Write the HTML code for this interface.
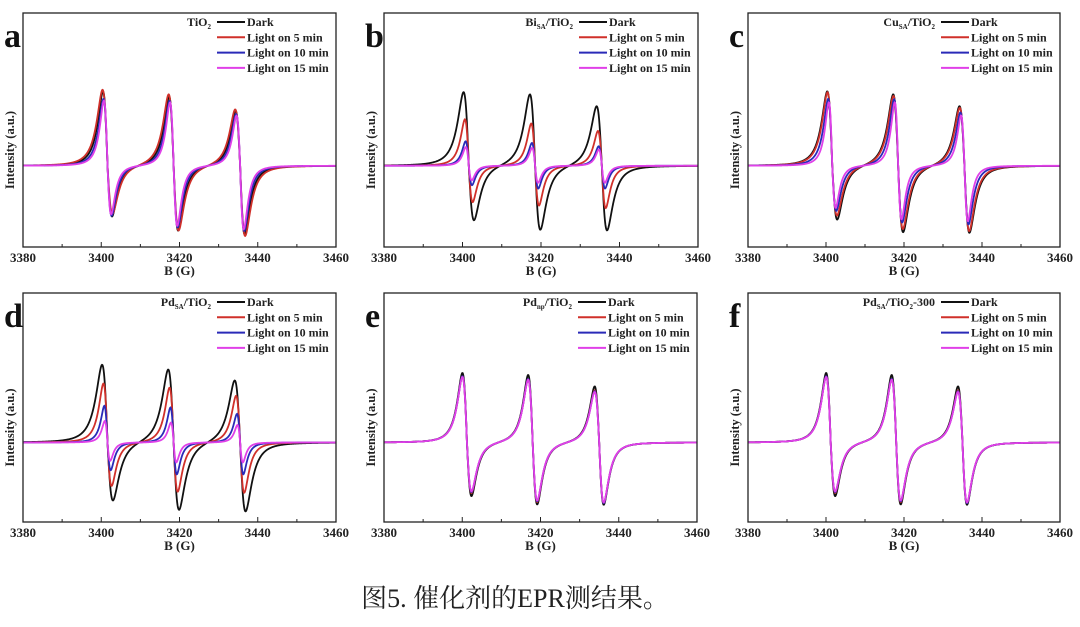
<!DOCTYPE html>
<html><head><meta charset="utf-8">
<style>
html,body{margin:0;padding:0;background:#fff;width:1080px;height:627px;overflow:hidden}
svg text{font-family:"Liberation Serif","Noto Serif CJK SC",serif}
</style></head>
<body>
<svg id="fig" width="1080" height="627" viewBox="0 0 1080 627" xmlns="http://www.w3.org/2000/svg">
<text x="515" y="607" text-anchor="middle" font-size="26" fill="#222" style="font-family:'Liberation Serif','Noto Serif CJK SC',serif">图5. 催化剂的EPR测结果。</text>
</svg>
<script>
const seriesNames = ["Dark","Light on 5 min","Light on 10 min","Light on 15 min"];
const seriesColors = ["#111111","#d0302a","#2a2ab8","#e040e8"];
const xTicks = [3380,3400,3420,3440,3460];
const panelLetters = ["a","b","c","d","e","f"];
const centersA = [3401.6,3418.5,3435.5];
const centersE = [3401.2,3418.0,3435.0];
// per panel: up amplitudes, down amplitudes, widths (G) for [dark, 5, 10, 15 min]
const upA = [[0.91,0.85,0.68],[0.93,0.88,0.70],[0.82,0.80,0.64],[0.80,0.78,0.62]];
const dnA = [[0.63,0.80,0.84],[0.60,0.80,0.86],[0.62,0.76,0.80],[0.60,0.74,0.78]];
const wA = [2.0,2.2,1.8,1.6];
const upB = [[0.90,0.88,0.74],[0.57,0.52,0.43],[0.30,0.28,0.24],[0.23,0.22,0.20]];
const dnB = [[0.68,0.79,0.79],[0.45,0.49,0.52],[0.24,0.28,0.28],[0.18,0.21,0.21]];
const wB = [2.3,1.7,1.4,1.3];
const upC = [[0.91,0.88,0.74],[0.90,0.86,0.72],[0.82,0.82,0.66],[0.78,0.78,0.62]];
const dnC = [[0.67,0.82,0.82],[0.62,0.78,0.80],[0.56,0.70,0.72],[0.52,0.66,0.68]];
const wC = [2.2,2.1,1.8,1.5];
const upD = [[0.97,0.92,0.79],[0.74,0.69,0.59],[0.46,0.44,0.36],[0.27,0.25,0.22]];
const dnD = [[0.74,0.85,0.86],[0.55,0.62,0.63],[0.35,0.40,0.40],[0.23,0.25,0.25]];
const wD = [2.4,1.8,1.4,1.2];
const upE = [[0.87,0.85,0.71],[0.83,0.80,0.66],[0.83,0.80,0.65],[0.82,0.79,0.64]];
const dnE = [[0.68,0.78,0.78],[0.64,0.75,0.76],[0.63,0.74,0.76],[0.62,0.73,0.75]];
const wE = [2.0,2.0,2.0,2.0];
const upF = [[0.87,0.85,0.71],[0.83,0.80,0.66],[0.83,0.80,0.65],[0.82,0.79,0.64]];
const dnF = [[0.68,0.78,0.78],[0.64,0.75,0.76],[0.63,0.74,0.76],[0.62,0.73,0.75]];
const wF = [2.0,2.0,2.0,2.0];

const NS="http://www.w3.org/2000/svg";
const svg=document.getElementById('fig');
function mk(tag,attrs,parent){const e=document.createElementNS(NS,tag);for(const k in attrs)e.setAttribute(k,attrs[k]);(parent||svg).appendChild(e);return e;}

const panels=[
 {box:[23,13,336,247],title:["TiO","2",""],up:upA,dn:dnA,w:wA,c:centersA},
 {box:[384,13,698,247],title:["Bi","SA","/TiO2"],up:upB,dn:dnB,w:wB,c:centersA},
 {box:[748,13,1060,247],title:["Cu","SA","/TiO2"],up:upC,dn:dnC,w:wC,c:centersA},
 {box:[23,293,336,522],title:["Pd","SA","/TiO2"],up:upD,dn:dnD,w:wD,c:centersA},
 {box:[384,293,697,522],title:["Pd","np","/TiO2"],up:upE,dn:dnE,w:wE,c:centersE},
 {box:[748,293,1060,522],title:["Pd","SA","/TiO2-300"],up:upF,dn:dnF,w:wF,c:centersE}
];
const yMin=-1, yMax=1.88;
function shape(t){return t/Math.pow(1+t*t,2)/0.3248;}

panels.forEach((p,pi)=>{
  const [x0,y0,x1,y1]=p.box;
  const g=mk('g',{});
  
  
  const X=v=>x0+(v-3380)/80*(x1-x0);
  const Y=v=>y1-(v-yMin)/(yMax-yMin)*(y1-y0);
  for(let s=0;s<4;s++){
    let d='';
    for(let i=0;i<=800;i++){
      const x=3380+i*0.1;
      let v=0;
      for(let k=0;k<3;k++){
        const t=(x-p.c[k])/p.w[s];
        const a=t<0?p.up[s][k]:p.dn[s][k];
        v+=-a*shape(t);
      }
      d+=(i?'L':'M')+X(x).toFixed(2)+','+Y(v).toFixed(2);
    }
    const path=mk('path',{d:d,fill:'none',stroke:seriesColors[s],'stroke-width':1.8},g);
    
    
  }
  const r=mk('rect',{x:x0,y:y0,width:x1-x0,height:y1-y0,fill:'none',stroke:'#222','stroke-width':1.3},g);
  
  
  for(let v=3380;v<=3460;v+=10){
    const major=xTicks.indexOf(v)>=0;
    mk('line',{x1:X(v),x2:X(v),y1:y1,y2:y1-(major?5:3),stroke:'#222','stroke-width':1},g);
  }
  xTicks.forEach(v=>{
    const t=mk('text',{x:X(v),y:y1+15,'text-anchor':'middle','font-size':13,'font-weight':'bold',fill:'#222'},g);
    t.textContent=v;
    
    
  });
  const xl=mk('text',{x:(x0+x1)/2,y:y1+28,'text-anchor':'middle','font-size':13,'font-weight':'bold',fill:'#222'},g);
  xl.textContent='B (G)';
  
  
  const yl=mk('text',{x:0,y:0,'text-anchor':'middle','font-size':12.5,'font-weight':'bold',fill:'#222',transform:`translate(${x0-9},${(y0+y1)/2+20}) rotate(-90)`},g);
  yl.textContent='Intensity (a.u.)';
  
  
  const L=mk('text',{x:x0-19,y:y0+34,'font-size':34,'font-weight':'bold',fill:'#111'},g);
  L.textContent=panelLetters[pi];
  
  
  const lx=x1-119;
  seriesNames.forEach((n,s)=>{
    const ly=y0+13+s*15.3;
    const ln=mk('line',{x1:lx,x2:lx+28,y1:ly-4,y2:ly-4,stroke:seriesColors[s],'stroke-width':2},g);
    
    
    const t=mk('text',{x:lx+30,y:ly,'font-size':12,'font-weight':'bold',fill:'#222'},g);
    t.textContent=n;
    
    
  });
  const tt=mk('text',{x:lx-6,y:y0+13,'text-anchor':'end','font-size':12,'font-weight':'bold',fill:'#222'},g);
  
  
  const parts=p.title;
  const s1=mk('tspan',{},tt);s1.textContent=parts[0];
  const s2=mk('tspan',{dy:3,'font-size':7},tt);s2.textContent=parts[1];
  if(parts[2]){
    const s3=mk('tspan',{dy:-3},tt);s3.textContent='/TiO';
    const s4=mk('tspan',{dy:3,'font-size':7},tt);s4.textContent='2';
    const tail=parts[2].split('TiO2')[1];
    if(tail){const s5=mk('tspan',{dy:-3},tt);s5.textContent=tail;}
  }
});
</script>
</body></html>
